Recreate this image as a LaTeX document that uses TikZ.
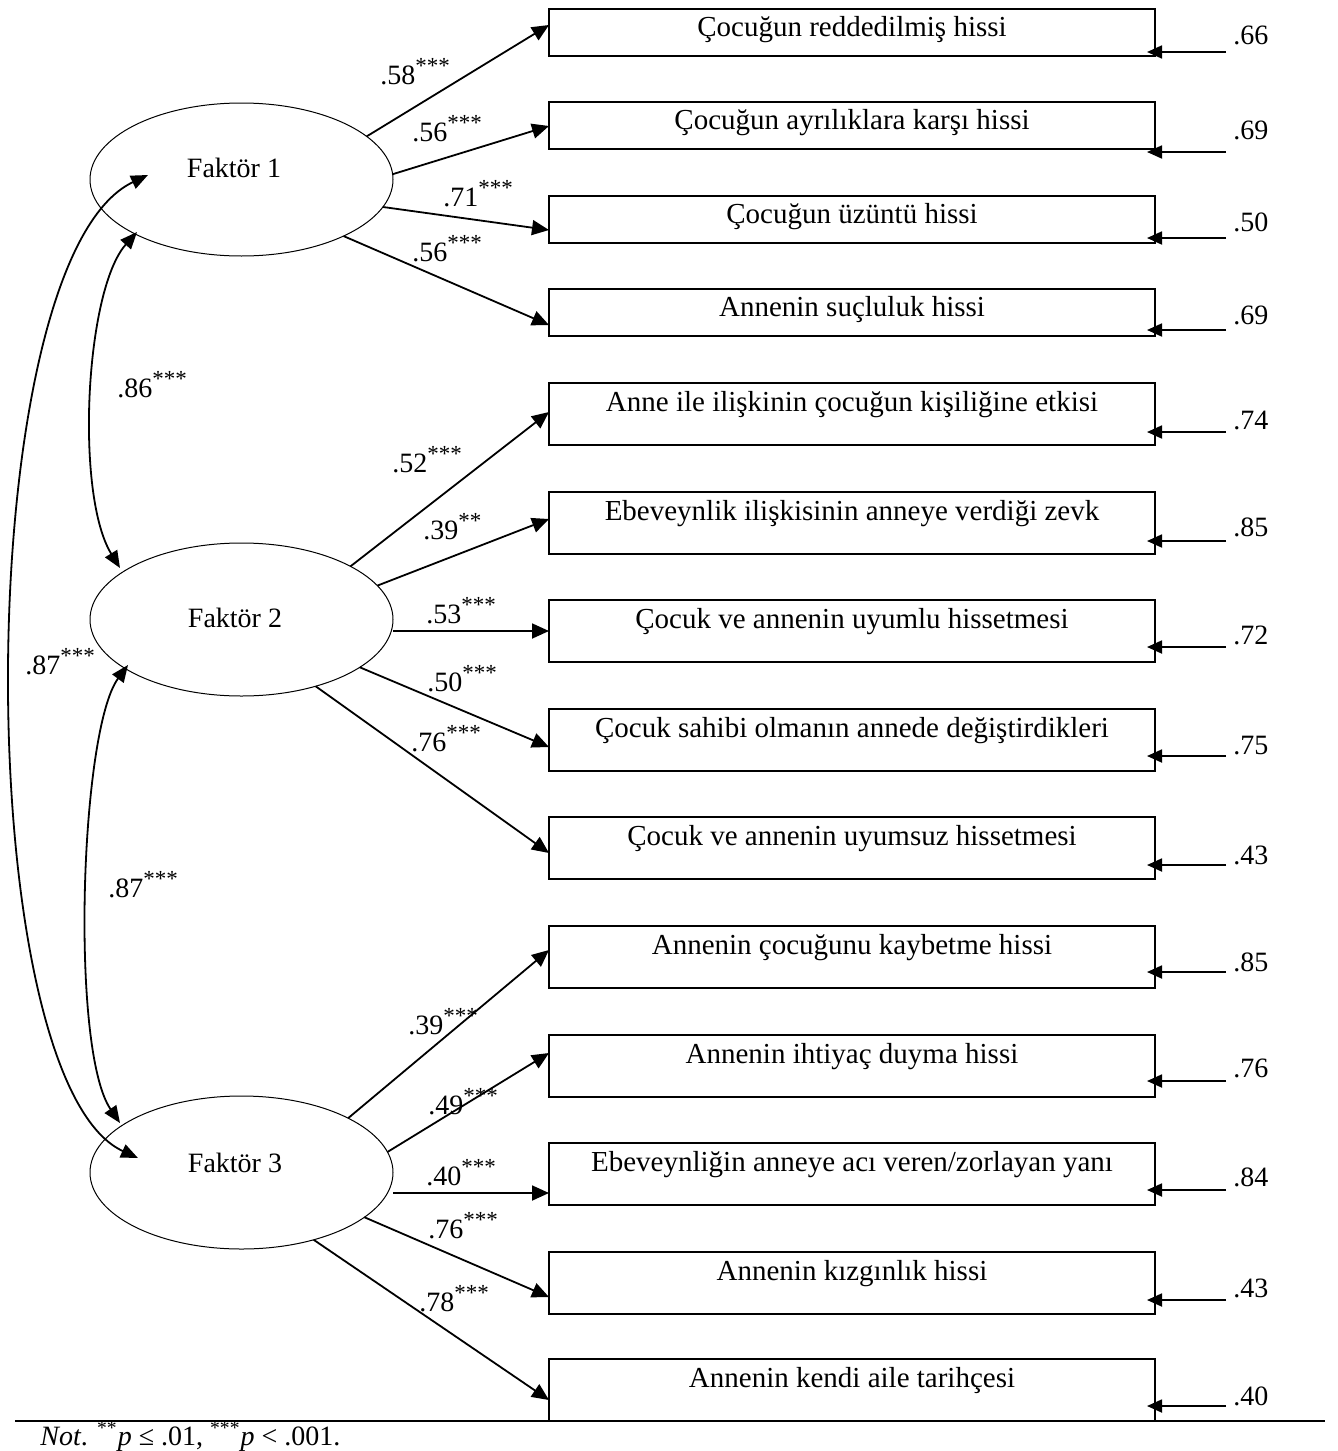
\documentclass[tikz,border=0pt]{standalone}
\usepackage{fontspec}
\setmainfont{Liberation Serif}
\usetikzlibrary{arrows.meta,calc,shapes.geometric}
\newcommand\stars[1]{\raisebox{0.38em}{\fontsize{11.5}{12}\selectfont #1}}
\begin{document}
\begin{tikzpicture}[x=0.5pt,y=-0.5pt,
  factor/.style={draw,ellipse,line width=0.5pt,minimum width=151.5pt,minimum height=76.5pt,inner sep=0pt,outer sep=0pt},
  ftext/.style={font=\fontsize{14}{16}\selectfont,inner sep=0pt},
  obsbox/.style={draw,line width=1pt,minimum width=303pt,inner sep=0pt,outer sep=0pt,anchor=north west},
  shortbox/.style={obsbox,minimum height=23.5pt},
  tallbox/.style={obsbox,minimum height=31pt},
  btext/.style={font=\fontsize{14.5}{16}\selectfont,inner sep=0pt,anchor=base},
  lab/.style={font=\fontsize{14}{16}\selectfont,inner sep=0pt,anchor=base west},
  load/.style={line width=0.9pt,-{Triangle[length=8.5pt,width=7.5pt]}},
  errarrow/.style={line width=0.9pt,-{Triangle[length=7.5pt,width=6.5pt]}},
  cov/.style={line width=0.9pt,{Triangle[length=8.5pt,width=7pt]}-{Triangle[length=8.5pt,width=7pt]}}]
\useasboundingbox (0,0) rectangle (1338,1451);

% factors
\node[factor] (f1) at (241.5,179.5) {};
\node[factor] (f2) at (241.5,619.5) {};
\node[factor] (f3) at (241.5,1172.5) {};
\node[ftext] (f1t) at (234,168) {Faktör 1};
\node[ftext] (f2t) at (235,618) {Faktör 2};
\node[ftext] (f3t) at (235,1163) {Faktör 3};

% observed boxes
\node[shortbox] (b1) at (549,9) {};
\node[shortbox] (b2) at (549,102) {};
\node[shortbox] (b3) at (549,196) {};
\node[shortbox] (b4) at (549,289) {};
\node[tallbox] (b5) at (549,383) {};
\node[tallbox] (b6) at (549,492) {};
\node[tallbox] (b7) at (549,600) {};
\node[tallbox] (b8) at (549,709) {};
\node[tallbox] (b9) at (549,817) {};
\node[tallbox] (b10) at (549,926) {};
\node[tallbox] (b11) at (549,1035) {};
\node[tallbox] (b12) at (549,1143) {};
\node[tallbox] (b13) at (549,1252) {};
\node[tallbox] (b14) at (549,1359) {};

\node[btext] (t1) at ($(b1.north)+(0,27)$) {Çocuğun reddedilmiş hissi};
\node[btext] (t2) at ($(b2.north)+(0,27)$) {Çocuğun ayrılıklara karşı hissi};
\node[btext] (t3) at ($(b3.north)+(0,27)$) {Çocuğun üzüntü hissi};
\node[btext] (t4) at ($(b4.north)+(0,27)$) {Annenin suçluluk hissi};
\node[btext] (t5) at ($(b5.north)+(0,28)$) {Anne ile ilişkinin çocuğun kişiliğine etkisi};
\node[btext] (t6) at ($(b6.north)+(0,28)$) {Ebeveynlik ilişkisinin anneye verdiği zevk};
\node[btext] (t7) at ($(b7.north)+(0,28)$) {Çocuk ve annenin uyumlu hissetmesi};
\node[btext] (t8) at ($(b8.north)+(0,28)$) {Çocuk sahibi olmanın annede değiştirdikleri};
\node[btext] (t9) at ($(b9.north)+(0,28)$) {Çocuk ve annenin uyumsuz hissetmesi};
\node[btext] (t10) at ($(b10.north)+(0,28)$) {Annenin çocuğunu kaybetme hissi};
\node[btext] (t11) at ($(b11.north)+(0,28)$) {Annenin ihtiyaç duyma hissi};
\node[btext] (t12) at ($(b12.north)+(0,28)$) {Ebeveynliğin anneye acı veren/zorlayan yanı};
\node[btext] (t13) at ($(b13.north)+(0,28)$) {Annenin kızgınlık hissi};
\node[btext] (t14) at ($(b14.north)+(0,28)$) {Annenin kendi aile tarihçesi};

% loadings
\draw[load] (f1.19.4) -- ($(b1.north west)+(0,16)$);
\draw[load] (f1.2.8) -- ($(b2.north west)+(0,24)$);
\draw[load] (f1.-11.2) -- ($(b3.north west)+(0,34)$);
\draw[load] (f1.-29.3) -- ($(b4.north west)+(0,36)$);
\draw[load] (f2.26.9) -- ($(b5.north west)+(0,29)$);
\draw[load] (f2.14.2) -- ($(b6.north west)+(0,27)$);
\draw[load] (f2.east |- b7.west) -- (b7.west);
\draw[load] (f2.-22.7) -- ($(b8.north west)+(0,38)$);
\draw[load] (f2.-42) -- ($(b9.north west)+(0,36)$);
\draw[load] (f3.27.3) -- ($(b10.north west)+(0,24)$);
\draw[load] (f3.8.4) -- ($(b11.north west)+(0,18)$);
\coordinate (tip12) at ($(b12.north west)+(0,50)$);
\draw[load] (f3.east |- tip12) -- (tip12);
\draw[load] (f3.-20.3) -- ($(b13.north west)+(0,45)$);
\draw[load] (f3.-43.8) -- ($(b14.north west)+(0,41)$);

% loading labels
\node[lab] (l1) at (380,84) {.58\stars{***}};
\node[lab] (l2) at (412,141) {.56\stars{***}};
\node[lab] (l3) at (443,206) {.71\stars{***}};
\node[lab] (l4) at (412,261) {.56\stars{***}};
\node[lab] (l5) at (392,472) {.52\stars{***}};
\node[lab] (l6) at (423,539) {.39\stars{**}};
\node[lab] (l7) at (426,623) {.53\stars{***}};
\node[lab] (l8) at (427,691) {.50\stars{***}};
\node[lab] (l9) at (411,751) {.76\stars{***}};
\node[lab] (l10) at (408,1034) {.39\stars{***}};
\node[lab] (l11) at (428,1114) {.49\stars{***}};
\node[lab] (l12) at (426,1185) {.40\stars{***}};
\node[lab] (l13) at (428,1238) {.76\stars{***}};
\node[lab] (l14) at (419,1311) {.78\stars{***}};

% error terms
\foreach \i/\dy/\lx/\ly/\v in {1/43/1233/44/.66, 2/50/1233/139/.69, 3/42/1233/231/.50, 4/41/1233/324/.69,
  5/49/1233/429/.74, 6/49/1233/536/.85, 7/47/1233/644/.72, 8/47/1233/754/.75, 9/48/1233/864/.43,
  10/46/1233/971/.85, 11/46/1233/1077/.76, 12/47/1233/1186/.84, 13/48/1233/1297/.43, 14/47/1233/1405/.40} {
  \coordinate (e\i) at ($(b\i.north east)+(71,\dy)$);
  \draw[errarrow] (e\i) -- ($(b\i.north east)+(-8,\dy)$);
  \node[lab] (ev\i) at (\lx,\ly) {\v};
}

% covariances
\coordinate (c1a) at (137,232);
\coordinate (c1b) at (120,568);
\coordinate (c2a) at (128,665);
\coordinate (c2b) at (120,1123);
\coordinate (c3a) at (148,175);
\coordinate (c3b) at (138,1158);
\draw[cov] (c1a) .. controls (85,290) and (75,495) .. (c1b);
\draw[cov] (c2a) .. controls (80,730) and (70,1050) .. (c2b);
\draw[cov] (c3a) .. controls (-32,260) and (-32,1080) .. (c3b);
\node[lab] (k1) at (117,397) {.86\stars{***}};
\node[lab] (k2) at (108,897) {.87\stars{***}};
\node[lab] (k3) at (25,674) {.87\stars{***}};

% rule and note
\coordinate (r1) at (15,1421);
\coordinate (r2) at (1325,1421);
\draw[line width=1pt] (r1) -- (r2);
\node[lab,font=\fontsize{14}{16}\selectfont] (note) at (40,1445) {\textit{Not}. \textsuperscript{**}\textit{p} ≤ .01, \textsuperscript{***}\textit{p} < .001.};
\end{tikzpicture}
\end{document}
